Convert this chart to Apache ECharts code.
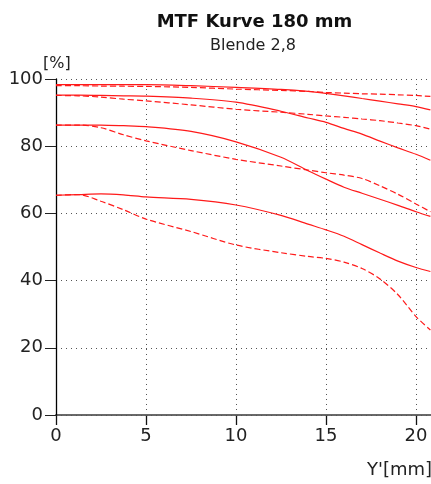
<!DOCTYPE html>
<html>
<head>
<meta charset="utf-8">
<script src="https://cdn.jsdelivr.net/npm/echarts@6/dist/echarts.min.js"></script>
<style>
  html, body { margin: 0; padding: 0; background: #fff; }
  #chart { width: 431px; height: 484px; }
</style>
</head>
<body>
<div id="chart"></div>
<script>
// Image height Y' in mm, shared by all curves
const imageHeight = [0, 1.25, 2.5, 3.75, 5, 7.5, 10, 12.5, 14, 15, 16, 17, 18, 19, 20, 20.8];

// MTF contrast in %, four spatial frequencies (solid = radial, dashed = tangential)
const mtf1Solid  = [98.3, 98.3, 98.3, 98.3, 98.3, 98.0, 97.5, 96.9, 96.3, 95.7, 95.0, 94.2, 93.4, 92.6, 91.8, 90.8];
const mtf1Dashed = [98.0, 98.0, 97.9, 97.85, 97.8, 97.5, 97.0, 96.6, 96.3, 96.0, 95.8, 95.6, 95.5, 95.3, 95.1, 94.8];
const mtf2Solid  = [95.2, 95.2, 95.1, 95.0, 94.9, 94.3, 93.1, 90.4, 88.4, 87.1, 85.3, 83.6, 81.5, 79.5, 77.6, 75.8];
const mtf2Dashed = [95.1, 95.0, 94.6, 94.0, 93.5, 92.3, 91.0, 90.1, 89.5, 89.0, 88.6, 88.1, 87.6, 86.9, 86.1, 85.1];
const mtf3Solid  = [86.3, 86.3, 86.3, 86.1, 85.8, 84.4, 81.3, 76.7, 72.7, 70.2, 67.8, 66.0, 64.2, 62.4, 60.5, 59.1];
const mtf3Dashed = [86.3, 86.3, 85.5, 83.4, 81.6, 78.7, 76.1, 74.1, 72.9, 72.1, 71.4, 70.4, 68.2, 65.7, 62.8, 60.5];
const mtf4Solid  = [65.4, 65.6, 65.8, 65.5, 64.9, 64.2, 62.5, 59.4, 56.8, 55.1, 53.2, 50.7, 48.2, 45.8, 43.9, 42.7];
const mtf4Dashed = [65.4, 65.6, 63.6, 61.1, 58.3, 54.6, 50.6, 48.3, 47.2, 46.6, 45.5, 43.6, 40.5, 35.8, 29.3, 25.3];

const xTicks = [0, 5, 10, 15, 20];
const yTicks = [0, 20, 40, 60, 80, 100];

const FONT = '"DejaVu Sans", "Liberation Sans", sans-serif';

function pairs(ys) {
  return imageHeight.map((x, i) => [x, ys[i]]);
}

function curve(ys, dashed) {
  return {
    type: 'line',
    data: pairs(ys),
    smooth: 0.3,
    showSymbol: false,
    clip: false,
    lineStyle: {
      color: '#ff1a1a',
      width: 1.2,
      type: dashed ? [6, 3] : 'solid'
    },
    z: 5
  };
}

const chart = echarts.init(document.getElementById('chart'), null, { renderer: 'canvas' });

chart.setOption({
  animation: false,
  backgroundColor: '#ffffff',
  // plot area runs past the right edge of the canvas (25 mm span, 18 px per mm)
  grid: { left: 56, top: 79, bottom: 69, width: 450, containLabel: false, outerBoundsMode: 'none' },
  xAxis: [
    {
      type: 'value',
      min: 0,
      max: 25,
      interval: 5,
      position: 'bottom',
      axisLine: { show: true, onZero: false, lineStyle: { color: '#777', width: 2 } },
      axisTick: { show: true, length: 10, lineStyle: { color: '#111', width: 1.3 } },
      axisLabel: {
        margin: 12,
        fontSize: 18,
        fontFamily: FONT,
        color: '#222',
        formatter: v => (xTicks.includes(v) ? String(v) : '')
      },
      splitLine: { show: true, lineStyle: { color: '#555', width: 1, type: [1, 4] } }
    },
    {
      type: 'value',
      min: 0,
      max: 25,
      position: 'top',
      axisLine: { show: true, lineStyle: { color: '#666', width: 1.5 } },
      axisTick: { show: false },
      axisLabel: { show: false },
      splitLine: { show: false }
    }
  ],
  yAxis: {
    type: 'value',
    min: 0,
    max: 100,
    interval: 20,
    axisLine: { show: true, onZero: false, lineStyle: { color: '#000', width: 1.3 } },
    axisTick: { show: true, length: 11, lineStyle: { color: '#222', width: 1 } },
    axisLabel: {
      margin: 13,
      fontSize: 18,
      fontFamily: FONT,
      color: '#222',
      formatter: v => (yTicks.includes(v) ? String(v) : '')
    },
    splitLine: { show: true, lineStyle: { color: '#555', width: 1, type: [1, 4] } },
    z: 3
  },
  series: [
    curve(mtf1Solid, false),
    curve(mtf1Dashed, true),
    curve(mtf2Solid, false),
    curve(mtf2Dashed, true),
    curve(mtf3Solid, false),
    curve(mtf3Dashed, true),
    curve(mtf4Solid, false),
    curve(mtf4Dashed, true)
  ],
  graphic: [
    {
      type: 'text', x: 254.5, y: 13,
      style: { text: 'MTF Kurve 180 mm', font: 'bold 18px ' + FONT, fill: '#111', align: 'center', verticalAlign: 'top' }
    },
    {
      type: 'text', x: 253, y: 38,
      style: { text: 'Blende 2,8', font: '16px ' + FONT, fill: '#222', align: 'center', verticalAlign: 'top' }
    },
    {
      type: 'text', x: 43, y: 56,
      style: { text: '[%]', font: '16px ' + FONT, fill: '#222', verticalAlign: 'top' }
    },
    {
      type: 'text', x: 367, y: 461,
      style: { text: "Y'[mm]", font: '18px ' + FONT, fill: '#222', verticalAlign: 'top' }
    }
  ]
});
</script>
</body>
</html>
